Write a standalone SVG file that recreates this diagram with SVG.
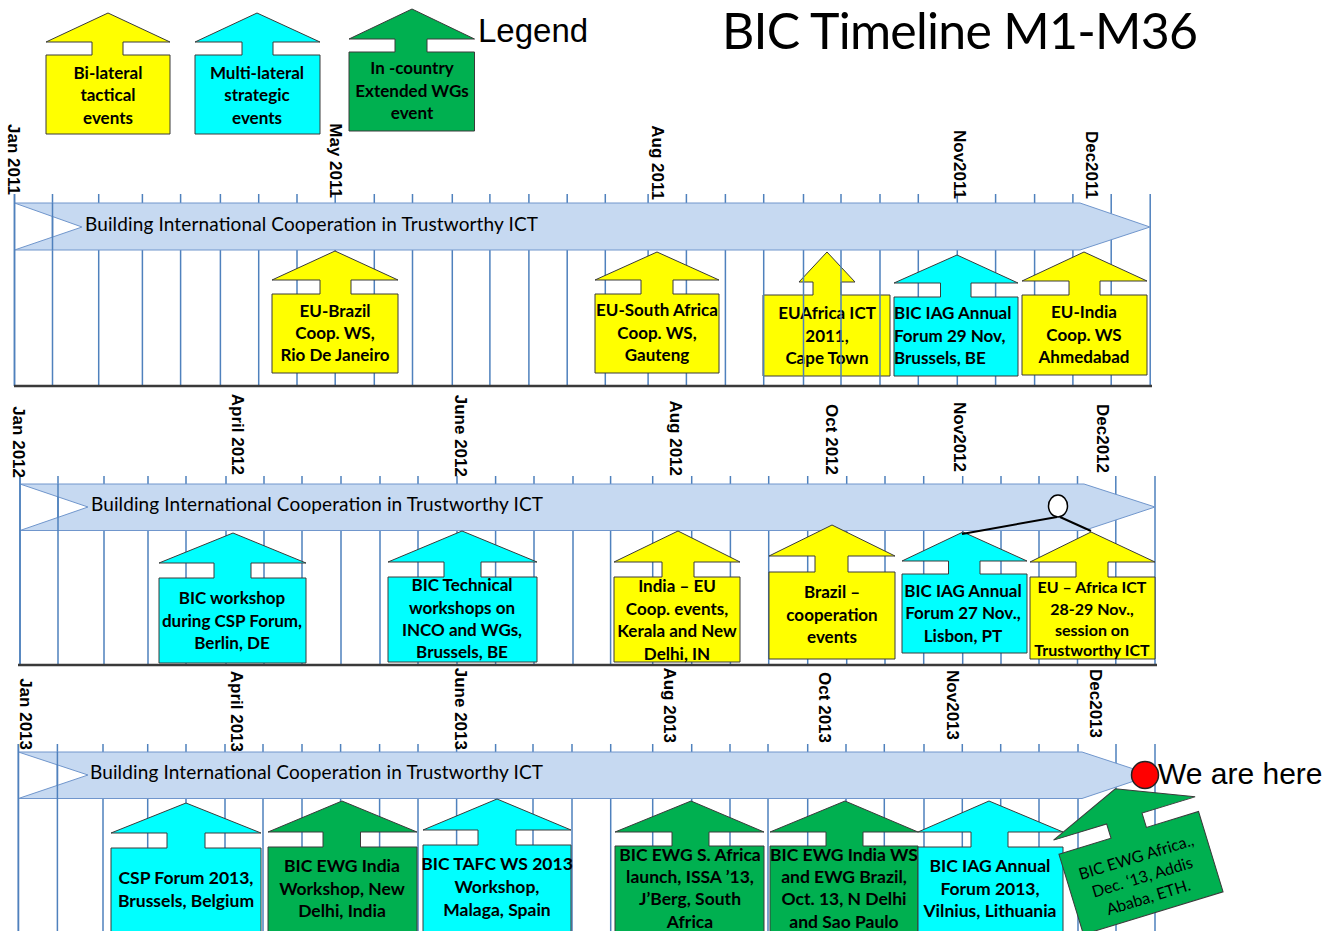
<svg xmlns="http://www.w3.org/2000/svg" width="1341" height="931" viewBox="0 0 1341 931">
<style>
.grid{stroke:#4F81BD;stroke-width:1.5;fill:none}
.band{fill:#C6D9F1;stroke:#7096CC;stroke-width:1}
.base{stroke:#3A3A3A;stroke-width:2.5;fill:none}
.yel{fill:#FFFF00;stroke:#3A3A3A;stroke-width:1}
.cyn{fill:#00FFFF;stroke:#3A3A3A;stroke-width:1}
.grn{fill:#00B050;stroke:#3A3A3A;stroke-width:1}
.lbl{font-family:"Liberation Sans",Arial,sans-serif;font-weight:bold;font-size:17px;fill:#000;text-anchor:end}
.t{font-family:Lato,"Liberation Sans",sans-serif;font-weight:bold;font-size:17px;fill:#000;text-anchor:middle}
.tl{text-anchor:start}
.sm{font-size:16px}
.r3{font-size:17.5px}
.bt{font-family:Lato,"Liberation Sans",sans-serif;font-size:19px;fill:#000}
.cn{stroke:#000;stroke-width:2;fill:none}
</style>

<!-- node drawn behind the grid, as in the reference -->
<g id="euafrica11">
<path class="yel" d="M763,295 H813 V282 H799 L827,252 L855,282 H841 V295 H890 V376 H763 Z"/>
<text class="t"><tspan x="827" y="319">EUAfrica ICT</tspan><tspan x="827" y="342">2011,</tspan><tspan x="827" y="364">Cape Town</tspan></text>
</g>

<g id="grid">
<path class="grid" d="M14.5,194V386M52.5,194V386M98.7,194V386M142.4,194V386M180.6,194V386M220.4,194V386M258.7,194V386M297,194V386M335.2,194V386M374.3,194V386M412.5,194V386M452.3,194V386M489.9,194V386M528.9,194V386M567.2,194V386M605.3,194V386M648.1,194V386M686.4,194V386M725.4,194V386M763.7,194V386M803.5,194V386M841,194V386M880,194V386M918.3,194V386M957.3,194V386M995.6,194V386M1034.6,194V386M1072.9,194V386M1111.2,194V386M1150.2,194V386"/>
<path class="grid" d="M20,476V665M58,476V665M104,476V665M148,476V665M186,476V665M226,476V665M264,476V665M302,476V665M341,476V665M380,476V665M418,476V665M457,476V665M495.6,476V665M534,476V665M573,476V665M610.6,476V665M652.7,476V665M691.7,476V665M730.4,476V665M768.7,476V665M807.7,476V665M846.7,476V665M885,476V665M923.7,476V665M962.7,476V665M1001,476V665M1039,476V665M1077.5,476V665M1115.8,476V665M1155,476V665"/>
<path class="grid" d="M18.4,744V931M57.4,744V931M103,744V931M147.7,744V931M186,744V931M225,744V931M263,744V931M302,744V931M340.6,744V931M379.6,744V931M418,744V931M456.6,744V931M495.6,744V931M533,744V931M572,744V931M610.7,744V931M652.7,744V931M691.7,744V931M730,744V931M768,744V931M807.7,744V931M846,744V931M884.3,744V931M924,744V931M962.3,744V931M1000.7,744V931M1039,744V931M1078,744V931M1116,744V931M1155,744V931"/>
</g>

<g id="bands">
<path class="band" d="M14.5,203 L1080,203 L1150,227 L1080,250 L14.5,250 L82,227 Z"/>
<path class="band" d="M20,484 L1084,484 L1155,507 L1084,530.5 L20,530.5 L88,507 Z"/>
<path class="band" d="M18.4,752 L1082,752 L1152,775 L1082,798.5 L18.4,798.5 L88,775 Z"/>
<path class="grid" d="M52.5,203V250M58,484V531M57.4,752V799M14.5,194V386M20,476V665M18.4,744V931"/>
<path class="base" d="M14,386H1152M18,665H1157"/>
<text class="bt" x="85" y="231" textLength="453">Building International Cooperation in Trustworthy ICT</text>
<text class="bt" x="91" y="511" textLength="452">Building International Cooperation in Trustworthy ICT</text>
<text class="bt" x="90" y="779" textLength="453">Building International Cooperation in Trustworthy ICT</text>
</g>

<g id="months">
<text class="lbl" transform="translate(8.4,195) rotate(90)">Jan 2011</text>
<text class="lbl" transform="translate(329.5,198) rotate(90)">May 2011</text>
<text class="lbl" transform="translate(651.5,200) rotate(90)">Aug 2011</text>
<text class="lbl" transform="translate(954,199) rotate(90)">Nov2011</text>
<text class="lbl" transform="translate(1086,199) rotate(90)">Dec2011</text>
<text class="lbl" transform="translate(13,478) rotate(90)">Jan 2012</text>
<text class="lbl" transform="translate(232,475) rotate(90)">April 2012</text>
<text class="lbl" transform="translate(454.6,477) rotate(90)">June 2012</text>
<text class="lbl" transform="translate(670,476) rotate(90)">Aug 2012</text>
<text class="lbl" transform="translate(826,475) rotate(90)">Oct 2012</text>
<text class="lbl" transform="translate(954,472) rotate(90)">Nov2012</text>
<text class="lbl" transform="translate(1097,473) rotate(90)">Dec2012</text>
<text class="lbl" transform="translate(20,750) rotate(90)">Jan 2013</text>
<text class="lbl" transform="translate(231,752) rotate(90)">April 2013</text>
<text class="lbl" transform="translate(455,750) rotate(90)">June 2013</text>
<text class="lbl" transform="translate(663.7,743) rotate(90)">Aug 2013</text>
<text class="lbl" transform="translate(819,743) rotate(90)">Oct 2013</text>
<text class="lbl" transform="translate(947,740) rotate(90)">Nov2013</text>
<text class="lbl" transform="translate(1090,738) rotate(90)">Dec2013</text>
</g>

<g id="legend-bilateral">
<path class="yel" d="M46,55 H92 V42 H46 L108,13 L170,42 H123 V55 H170 V134 H46 Z"/>
<text class="t"><tspan x="108" y="79">Bi-lateral</tspan><tspan x="108" y="101">tactical</tspan><tspan x="108" y="124">events</tspan></text>
</g>
<g id="legend-multilateral">
<path class="cyn" d="M195,55 H242 V42 H195 L257,13 L320,42 H273 V55 H320 V134 H195 Z"/>
<text class="t"><tspan x="257" y="79">Multi-lateral</tspan><tspan x="257" y="101">strategic</tspan><tspan x="257" y="124">events</tspan></text>
</g>
<g id="legend-incountry">
<path class="grn" d="M349,52 H395 V39 H349 L412,9 L474.5,39 H427 V52 H474.5 V131 H349 Z"/>
<text class="t"><tspan x="412" y="74">In -country</tspan><tspan x="412" y="97">Extended WGs</tspan><tspan x="412" y="119">event</tspan></text>
</g>

<g id="brazil11">
<path class="yel" d="M272,294 H320 V280 H272 L335,251 L398,280 H351 V294 H398 V373 H272 Z"/>
<text class="t"><tspan x="335" y="317">EU-Brazil</tspan><tspan x="335" y="339">Coop. WS,</tspan><tspan x="335" y="361">Rio De Janeiro</tspan></text>
</g>
<g id="safrica11">
<path class="yel" d="M595,294 H641 V280 H595 L657,252 L719,280 H673 V294 H719 V373 H595 Z"/>
<text class="t"><tspan x="657" y="316">EU-South Africa</tspan><tspan x="657" y="339">Coop. WS,</tspan><tspan x="657" y="361">Gauteng</tspan></text>
</g>
<g id="iag11">
<path class="cyn" d="M894,297 H940.5 V283 H894 L957,255 L1018,283 H971 V297 H1018 V376 H894 Z"/>
<text class="t tl"><tspan x="894" y="319">BIC IAG Annual</tspan><tspan x="894" y="342">Forum 29 Nov,</tspan><tspan x="894" y="364">Brussels, BE</tspan></text>
</g>
<g id="india11">
<path class="yel" d="M1022,295 H1069 V281 H1022 L1084,252 L1147,281 H1100 V295 H1147 V375 H1022 Z"/>
<text class="t"><tspan x="1084" y="318">EU-India</tspan><tspan x="1084" y="341">Coop. WS</tspan><tspan x="1084" y="363">Ahmedabad</tspan></text>
</g>

<g id="bicws12">
<path class="cyn" d="M159,578 H214 V563 H159 L233,533 L306,563 H251 V578 H306 V663 H159 Z"/>
<text class="t"><tspan x="232" y="604">BIC workshop</tspan><tspan x="232" y="627">during CSP Forum,</tspan><tspan x="232" y="649">Berlin, DE</tspan></text>
</g>
<g id="bictech12">
<path class="cyn" d="M388,577 H444 V562 H388 L462,531 L537,562 H481 V577 H537 V662 H388 Z"/>
<text class="t"><tspan x="462" y="591">BIC Technical</tspan><tspan x="462" y="614">workshops on</tspan><tspan x="462" y="636">INCO and WGs,</tspan><tspan x="462" y="658">Brussels, BE</tspan></text>
</g>
<g id="indiaeu12">
<path class="yel" d="M614,577 H662 V562 H614 L678,531 L740,562 H694 V577 H740 V662 H614 Z"/>
<text class="t"><tspan x="677" y="592">India – EU</tspan><tspan x="677" y="615">Coop. events,</tspan><tspan x="677" y="637">Kerala and New</tspan><tspan x="677" y="660">Delhi, IN</tspan></text>
</g>
<g id="brazil12">
<path class="yel" d="M769,572 H815 V556 H769 L832,525 L895,556 H848 V572 H895 V659 H769 Z"/>
<text class="t"><tspan x="832" y="598">Brazil –</tspan><tspan x="832" y="621">cooperation</tspan><tspan x="832" y="643">events</tspan></text>
</g>
<g id="iag12">
<path class="cyn" d="M902,574 H948.5 V561 H902 L963,532 L1027,561 H980 V574 H1027 V653 H902 Z"/>
<text class="t"><tspan x="963" y="597">BIC IAG Annual</tspan><tspan x="963" y="619">Forum 27 Nov.,</tspan><tspan x="963" y="642">Lisbon, PT</tspan></text>
</g>
<g id="euafrica12">
<path class="yel" d="M1030,577 H1076 V562 H1030 L1091,532 L1155,562 H1108 V577 H1155 V659 H1030 Z"/>
<text class="t sm"><tspan x="1092" y="593">EU – Africa ICT</tspan><tspan x="1092" y="615">28-29 Nov.,</tspan><tspan x="1092" y="636">session on</tspan><tspan x="1092" y="656">Trustworthy ICT</tspan></text>
</g>

<g id="csp13">
<path class="cyn" d="M111,848 H167 V833 H111 L186,803 L261,833 H205 V848 H261 V940 H111 Z"/>
<text class="t r3"><tspan x="186" y="884">CSP Forum 2013,</tspan><tspan x="186" y="907">Brussels, Belgium</tspan></text>
</g>
<g id="ewgindia13">
<path class="grn" d="M268,847 H323 V832 H268 L342,801 L417,832 H360.5 V847 H417 V940 H268 Z"/>
<text class="t r3"><tspan x="342" y="872">BIC EWG India</tspan><tspan x="342" y="895">Workshop, New</tspan><tspan x="342" y="917">Delhi, India</tspan></text>
</g>
<g id="tafc13">
<path class="cyn" d="M423,845 H478 V830 H423 L497,799 L571,830 H516 V845 H571 V940 H423 Z"/>
<text class="t r3"><tspan x="497" y="870">BIC TAFC WS 2013</tspan><tspan x="497" y="893">Workshop,</tspan><tspan x="497" y="916">Malaga, Spain</tspan></text>
</g>
<g id="ewgsa13">
<path class="grn" d="M615,846 H672 V832 H615 L691,801 L764,832 H709 V846 H764 V940 H615 Z"/>
<text class="t r3"><tspan x="690" y="861">BIC EWG S. Africa</tspan><tspan x="690" y="883">launch, ISSA ’13,</tspan><tspan x="690" y="905">J’Berg, South</tspan><tspan x="690" y="928">Africa</tspan></text>
</g>
<g id="ewgindiaws13">
<path class="grn" d="M770,846 H826 V832 H770 L845,801 L918,832 H863 V846 H918 V940 H770 Z"/>
<text class="t r3"><tspan x="844" y="861">BIC EWG India WS</tspan><tspan x="844" y="883">and EWG Brazil,</tspan><tspan x="844" y="905">Oct. 13, N Delhi</tspan><tspan x="844" y="928">and Sao Paulo</tspan></text>
</g>
<g id="iag13">
<path class="cyn" d="M918,847 H971 V832 H918 L989,801 L1063,832 H1008 V847 H1063 V940 H918 Z"/>
<text class="t r3"><tspan x="990" y="872">BIC IAG Annual</tspan><tspan x="990" y="895">Forum 2013,</tspan><tspan x="990" y="917">Vilnius, Lithuania</tspan></text>
</g>
<g id="ewgafrica13" transform="translate(1141,873) rotate(-17)">
<path class="grn" d="M-73,-42 H-18.5 V-57 H-74 L0,-88 L74,-57 H18.5 V-42 H73 V42 H-73 Z"/>
<text class="t" style="font-weight:normal;font-size:16px"><tspan x="0" y="-11">BIC EWG Africa.,</tspan><tspan x="0" y="10">Dec. ‘13, Addis</tspan><tspan x="0" y="31">Ababa, ETH.</tspan></text>
</g>

<g id="connectors">
<path class="cn" d="M1057,517 L962,534 M1060,517 L1091,531"/>
<ellipse cx="1058" cy="506" rx="9.5" ry="11" fill="#FFFFFF" stroke="#000" stroke-width="1.5"/>
</g>

<g id="here">
<circle cx="1145" cy="775" r="13.5" fill="#FF0000" stroke="#222" stroke-width="1.5"/>
<text x="1158" y="784" font-family="'Liberation Sans',Arial,sans-serif" font-size="30" fill="#000">We are here</text>
</g>

<text x="478" y="42" font-family="'Liberation Sans',Arial,sans-serif" font-size="33" fill="#000">Legend</text>
<text x="722" y="49" font-family="Lato,'Liberation Sans',sans-serif" font-size="50" fill="#000" textLength="476">BIC Timeline M1-M36</text>
</svg>
